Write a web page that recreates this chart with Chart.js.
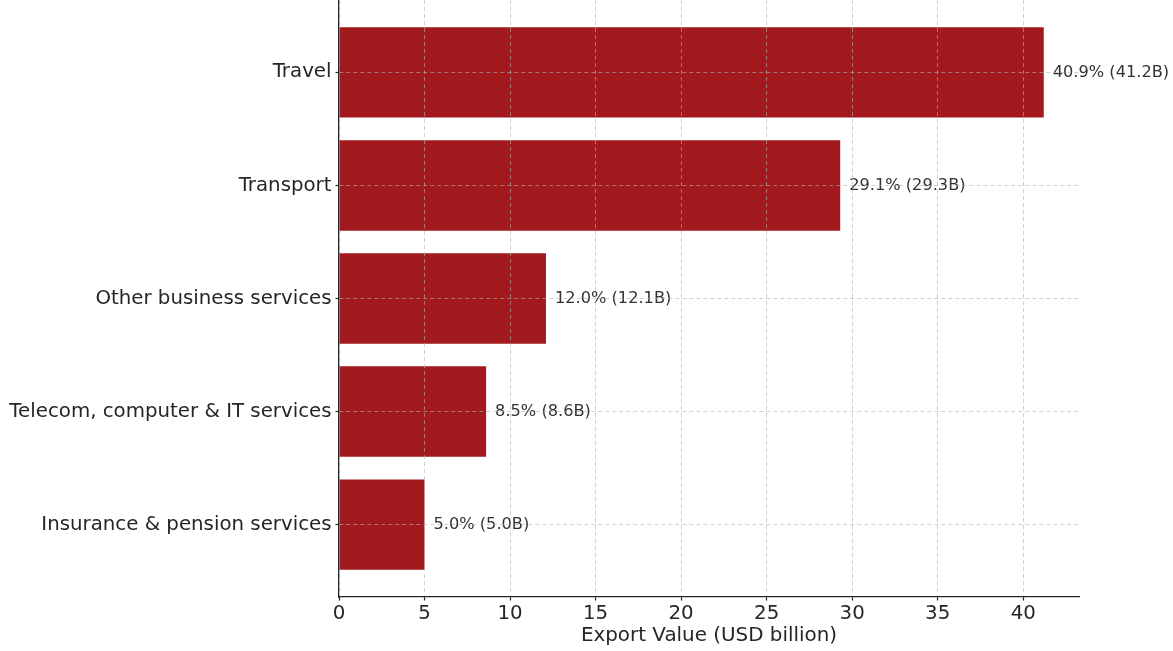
<!DOCTYPE html>
<html>
<head>
<meta charset="utf-8">
<script src="https://cdn.jsdelivr.net/npm/chart.js@4"></script>
<style>
  html, body { margin: 0; padding: 0; background: #fff; }
  #wrap { width: 1173px; height: 651px; }
</style>
</head>
<body>
<div id="wrap"><canvas id="myChart"></canvas></div>
<script>
let categories = ['Travel', 'Transport', 'Other business services', 'Telecom, computer & IT services', 'Insurance & pension services'];
let values = [41.2, 29.3, 12.1, 8.6, 5.0];
let shares = [40.9, 29.1, 12.0, 8.5, 5.0];
let xTicks = [0, 5, 10, 15, 20, 25, 30, 35, 40];

let gridColor = 'rgba(176, 176, 176, 0.6)';
let axisColor = '#262626';

let barLabels = {
    id: 'barLabels',
    afterDatasetsDraw(chart) {
        let ctx = chart.ctx;
        let meta = chart.getDatasetMeta(0);
        ctx.save();
        ctx.font = '16.2px "DejaVu Sans"';
        ctx.fillStyle = '#333333';
        ctx.textAlign = 'left';
        ctx.textBaseline = 'middle';
        meta.data.forEach((bar, i) => {
            ctx.fillText(shares[i].toFixed(1) + '% (' + values[i].toFixed(1) + 'B)', bar.x + 9, bar.y);
        });
        ctx.restore();
    }
};

let chart1 = new Chart(document.getElementById('myChart').getContext('2d'), {
    type: 'bar',
    data: {
        datasets: [{
            data: values.map((v, i) => ({ x: v, y: i })),
            backgroundColor: '#a31a1e',
            borderWidth: 0,
            barPercentage: 0.8,
            categoryPercentage: 1.0,
        }]
    },
    options: {
        indexAxis: 'y',
        responsive: true,
        maintainAspectRatio: false,
        animation: false,
        layout: { padding: { top: 0, right: 94, bottom: 0, left: 0 } },
        plugins: {
            legend: { display: false },
            tooltip: { enabled: false },
        },
        scales: {
            x: {
                type: 'linear',
                min: 0,
                max: 43.26,
                afterBuildTicks: (axis) => { axis.ticks = xTicks.map(v => ({ value: v })); },
                afterFit: (axis) => { axis.height = 54; axis.paddingLeft = 0; axis.paddingRight = 0; },
                ticks: {
                    color: axisColor,
                    font: { family: 'DejaVu Sans', size: 19.8 },
                    padding: 1,
                    maxRotation: 0,
                    callback: (v) => v,
                },
                grid: {
                    color: gridColor,
                    lineWidth: 1,
                    tickColor: axisColor,
                    tickLength: 3.5,
                    tickWidth: 1.2,
                    z: 1,
                },
                border: { display: true, color: axisColor, width: 1.3, dash: [4, 3], z: 2 },
                title: {
                    display: true,
                    text: 'Export Value (USD billion)',
                    color: axisColor,
                    font: { family: 'DejaVu Sans', size: 19.9 },
                    padding: { top: 0, bottom: 3 },
                },
            },
            y: {
                type: 'linear',
                reverse: true,
                offset: false,
                min: -0.64,
                max: 4.64,
                afterBuildTicks: (axis) => { axis.ticks = categories.map((c, i) => ({ value: i })); },
                afterFit: (axis) => { axis.width = 339; axis.paddingTop = 0; axis.paddingBottom = 0; },
                ticks: {
                    color: axisColor,
                    font: { family: 'DejaVu Sans', size: 19.8 },
                    padding: 4,
                    callback: (v) => categories[v],
                },
                grid: {
                    color: gridColor,
                    lineWidth: 1,
                    offset: false,
                    tickColor: axisColor,
                    tickLength: 3.5,
                    tickWidth: 1.2,
                    z: 1,
                },
                border: { display: true, color: axisColor, width: 1.3, dash: [4, 3], z: 2 },
            },
        },
    },
    plugins: [barLabels],
});
</script>
</body>
</html>
